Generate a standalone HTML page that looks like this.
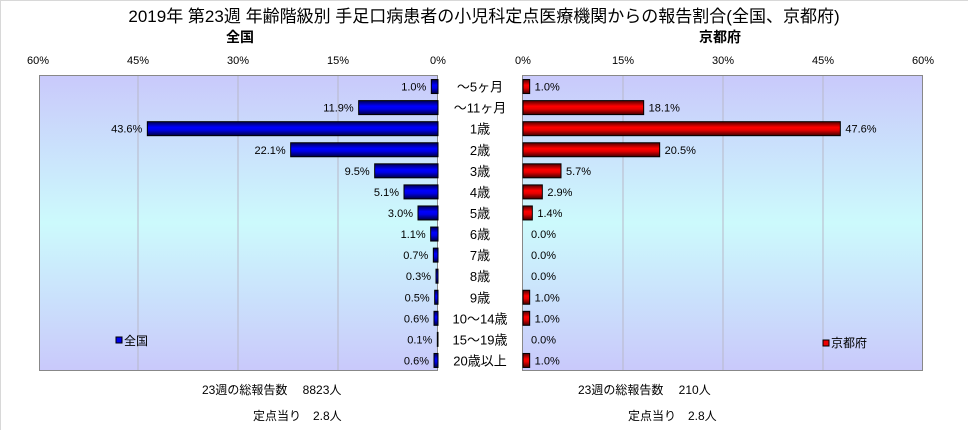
<!DOCTYPE html>
<html><head><meta charset="utf-8"><style>
body{margin:0;background:#fff;}
svg{display:block;font-family:"Liberation Sans","Noto Sans CJK JP",sans-serif;}
</style></head><body>
<svg id="c" width="968" height="430" viewBox="0 0 968 430" xmlns="http://www.w3.org/2000/svg">
<defs>
<linearGradient id="bg" x1="0" y1="0" x2="0" y2="1">
<stop offset="0" stop-color="#c9c9fb"/><stop offset="0.5" stop-color="#ccfafc"/><stop offset="1" stop-color="#c9c9fb"/>
</linearGradient>
<linearGradient id="gb" x1="0" y1="0" x2="0" y2="1">
<stop offset="0" stop-color="#000050"/><stop offset="0.4" stop-color="#0000ff"/><stop offset="0.6" stop-color="#0000e8"/><stop offset="1" stop-color="#000040"/>
</linearGradient>
<linearGradient id="gr" x1="0" y1="0" x2="0" y2="1">
<stop offset="0" stop-color="#500000"/><stop offset="0.4" stop-color="#ff0000"/><stop offset="0.6" stop-color="#e80000"/><stop offset="1" stop-color="#400000"/>
</linearGradient>
</defs>
<rect x="0.5" y="0.5" width="980" height="440" fill="none" stroke="#d8d8d8"/>
<text x="484" y="22" font-size="17" text-anchor="middle">2019年 第23週 年齢階級別 手足口病患者の小児科定点医療機関からの報告割合(全国、京都府)</text>
<text x="240" y="42" font-size="14" font-weight="bold" text-anchor="middle">全国</text>
<text x="720" y="42" font-size="14" font-weight="bold" text-anchor="middle">京都府</text>
<rect x="39.5" y="75.5" width="398" height="295" fill="url(#bg)" stroke="#888"/>
<rect x="522.5" y="75.5" width="400" height="295" fill="url(#bg)" stroke="#888"/>
<g id="g"></g>
<rect x="116" y="337" width="6" height="6" fill="#0000ee" stroke="#000"/>
<text x="124" y="345" font-size="12">全国</text>
<rect x="823" y="340" width="6" height="6" fill="#ee0000" stroke="#000"/>
<text x="831" y="347" font-size="12">京都府</text>
<text x="202" y="394" font-size="12">23週の総報告数　 8823人</text>
<text x="253" y="420" font-size="12">定点当り　2.8人</text>
<text x="578" y="394" font-size="12">23週の総報告数　 210人</text>
<text x="628" y="420" font-size="12">定点当り　2.8人</text>
</svg>
<script>
const categories=["～5ヶ月","～11ヶ月","1歳","2歳","3歳","4歳","5歳","6歳","7歳","8歳","9歳","10～14歳","15～19歳","20歳以上"];
const national=[1.0,11.9,43.6,22.1,9.5,5.1,3.0,1.1,0.7,0.3,0.5,0.6,0.1,0.6];
const kyoto=[1.0,18.1,47.6,20.5,5.7,2.9,1.4,0.0,0.0,0.0,1.0,1.0,0.0,1.0];
const ticks=[0,15,30,45,60];
const NS="http://www.w3.org/2000/svg";
const g=document.getElementById('g');
const L0=438,R0=523,S=400/60,top0=76,rowH=295/14;
const xl=v=>L0-v*S, xr=v=>R0+v*S, yc=i=>top0+rowH*(i+0.5);
function mk(t,a,txt){const e=document.createElementNS(NS,t);for(const k in a)e.setAttribute(k,a[k]);if(txt!=null)e.textContent=txt;g.appendChild(e);return e;}
ticks.forEach(t=>{
 if(t>0&&t<60){let e=mk('line',{x1:xl(t),x2:xl(t),y1:76,y2:370,stroke:'#b8b8c8'});
 
 
 e=mk('line',{x1:xr(t),x2:xr(t),y1:76,y2:370,stroke:'#b8b8c8'});
 
 }
 let e=mk('text',{x:xl(t),y:64,'font-size':11,'text-anchor':'middle'},t+'%');
 
 
 e=mk('text',{x:xr(t),y:64,'font-size':11,'text-anchor':'middle'},t+'%');
 
 
});
categories.forEach((c,i)=>{
 const y=yc(i);
 let e=mk('text',{x:480,y:y+5,'font-size':13,'text-anchor':'middle'},c);
 
 
 const v=national[i];
 if(v>0){e=mk('rect',{x:xl(v),y:y-7,width:v*S,height:14,fill:'url(#gb)',stroke:'#000','stroke-width':1});
 
 }
 e=mk('text',{x:xl(v)-5,y:y+4,'font-size':11,'text-anchor':'end'},v.toFixed(1)+'%');
 
 
 const k=kyoto[i];
 if(k>0){e=mk('rect',{x:R0,y:y-7,width:k*S,height:14,fill:'url(#gr)',stroke:'#000','stroke-width':1});
 
 }
 e=mk('text',{x:xr(k)+(k>0?5:8),y:y+4,'font-size':11},k.toFixed(1)+'%');
 
 
});
</script>
</body></html>
